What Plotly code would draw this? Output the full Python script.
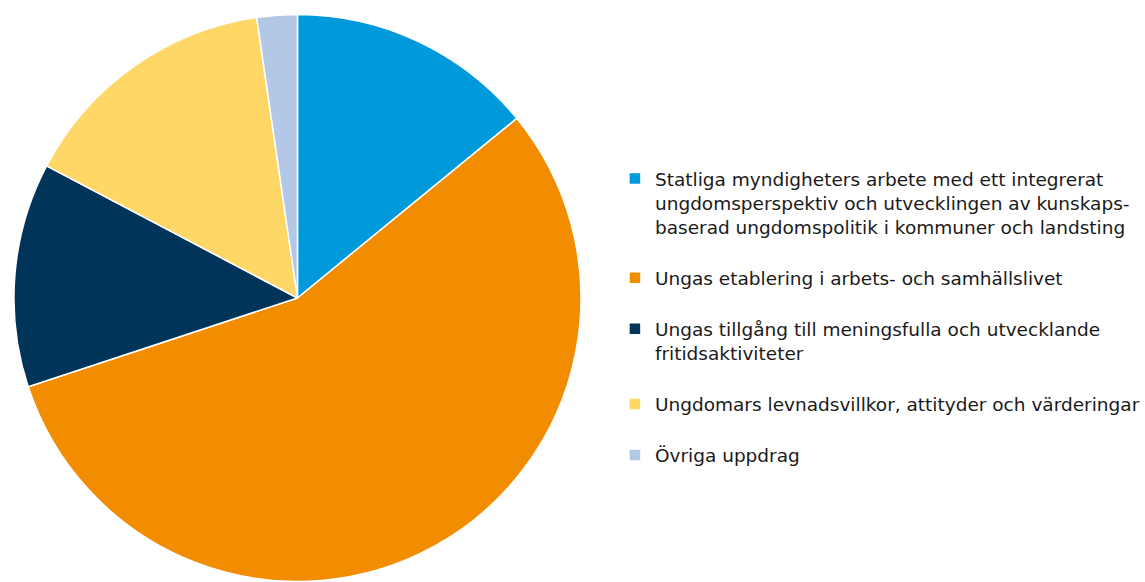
import plotly.graph_objects as go

labels = [
    "Statliga myndigheters arbete med ett integrerat<br>ungdomsperspektiv och utvecklingen av kunskaps-<br>baserad ungdomspolitik i kommuner och landsting",
    "Ungas etablering i arbets- och samhällslivet",
    "Ungas tillgång till meningsfulla och utvecklande<br>fritidsaktiviteter",
    "Ungdomars levnadsvillkor, attityder och värderingar",
    "Övriga uppdrag",
]
values = [14.1, 55.9, 12.8, 15.0, 2.3]
colors = ["#009ADA", "#F28C00", "#003459", "#FED766", "#B3C7E6"]

legend_labels = [l + "<br> " for l in labels]

fig = go.Figure(go.Pie(
    labels=legend_labels,
    values=values,
    sort=False,
    direction="clockwise",
    rotation=0,
    textinfo="none",
    hoverinfo="label+percent",
    marker=dict(colors=colors, line=dict(color="white", width=1.5)),
    domain=dict(x=[0.0122, 0.5083], y=[0.0, 0.976]),
))

fig.update_layout(
    width=1145, height=582,
    margin=dict(l=0, r=0, t=0, b=0),
    paper_bgcolor="white",
    plot_bgcolor="white",
    font=dict(family="DejaVu Sans, Verdana, sans-serif", size=18.5, color="#1a1a1a"),
    legend=dict(
        x=0.538, y=0.4347, xanchor="left", yanchor="middle",
        valign="top",
        itemwidth=30,
        font=dict(size=18.5),
        bgcolor="rgba(0,0,0,0)",
    ),
    showlegend=True,
)

fig.write_html("out.html", config={"displayModeBar": False},
               post_script="document.body.style.margin='0';")
